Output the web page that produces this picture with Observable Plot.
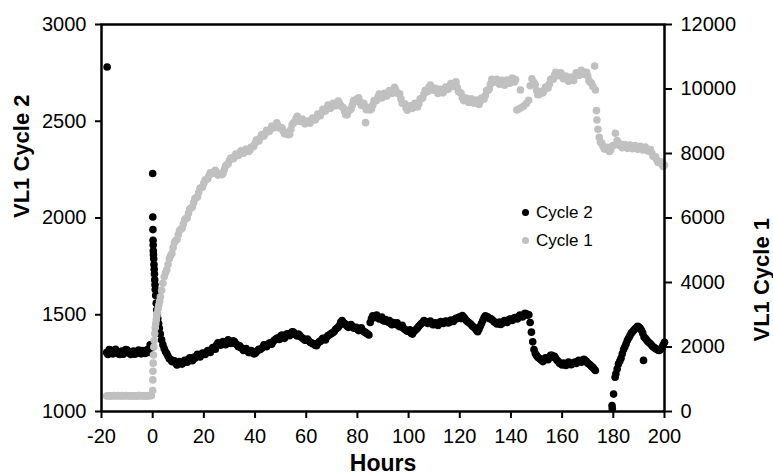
<!DOCTYPE html>
<html><head><meta charset="utf-8">
<script src="https://cdn.jsdelivr.net/npm/d3@7"></script>
<script src="https://cdn.jsdelivr.net/npm/@observablehq/plot@0.6"></script>
<style>
html,body{margin:0;padding:0;background:#fff;}
#wrap{position:relative;width:773px;height:475px;font-family:"Liberation Sans",Arial,sans-serif;}
.ldot{position:absolute;width:7px;height:7px;border-radius:50%;}
.ltxt{position:absolute;font-size:17px;line-height:17px;color:#000;white-space:nowrap;}
</style></head><body><div id="wrap"></div>
<script>
// Cycle 2 (left axis): [hours, VL1]
const cycle2 = [
[-17.8,2780],
[-18,1305],[-17,1320],[-16,1300],[-15,1315],[-14,1310],[-13,1295],[-12,1312],[-11,1305],[-10,1318],[-9,1300],[-8,1308],[-7,1296],[-6,1310],[-5,1304],[-4,1315],[-3,1300],[-2,1320],[-1,1345],[-0.5,1330],
[0,2230],[0.05,2005],[0.1,1940],[0.15,1885],[0.2,1860],[0.25,1830],[0.3,1810],[0.4,1790],[0.5,1760],[0.6,1735],[0.7,1710],[0.8,1680],[0.9,1655],[1,1630],[1.2,1600],[1.4,1560],[1.6,1525],[1.8,1500],[2,1480],[2.3,1455],[2.6,1430],[3,1400],[3.5,1370],[4,1345],
[5,1310],[6,1285],[7,1270],[8,1262],[9,1250],[10,1245],[11,1250],[12,1255],[13,1262],[14,1270],[15,1268],[16,1280],[17,1285],[18,1290],[19,1295],[20,1300],
[21,1305],[22,1310],[23,1320],[24,1330],[25,1345],[26,1350],[27,1355],[28,1350],[29,1360],[30,1362],[31,1358],[32,1360],[33,1345],[34,1340],[35,1325],[36,1320],[37,1315],[38,1305],[39,1310],[40,1300],
[41,1315],[42,1320],[43,1332],[44,1340],[45,1345],[46,1355],[47,1360],[48,1372],[49,1380],[50,1390],[51,1385],[52,1395],[53,1400],[54,1405],[55,1410],[56,1395],[57,1400],[58,1385],[59,1375],[60,1370],
[61,1365],[62,1355],[63,1350],[64,1340],[65,1360],[66,1370],[67,1375],[68,1385],[69,1395],[70,1405],[71,1415],[72,1430],[73,1445],[74,1470],[75,1455],[76,1440],[77,1445],[78,1440],[79,1430],[80,1425],
[81,1428],[82,1420],[83,1410],[84,1400],[85,1460],[86,1495],[87,1490],[88,1487],[89,1480],[90,1470],[91,1475],[92,1462],[93,1455],[94,1460],[95,1450],[96,1445],[97,1440],[98,1430],[99,1420],[100,1415],
[101,1405],[102,1412],[103,1425],[104,1440],[105,1455],[106,1470],[107,1462],[108,1460],[109,1455],[110,1450],[111,1453],[112,1458],[113,1462],[114,1460],[115,1465],[116,1461],[117,1470],[118,1475],[119,1480],[120,1490],
[121,1496],[122,1480],[123,1465],[124,1455],[125,1440],[126,1430],[127,1412],[128,1440],[129,1470],[130,1495],[131,1488],[132,1480],[133,1470],[134,1460],[135,1455],[136,1450],[137,1462],[138,1468],[139,1472],[140,1476],
[141,1479],[142,1485],[143,1490],[144,1495],[145,1500],[146,1505],[147,1500],[147.5,1460],[148,1410],[148.5,1360],[149,1320],[150,1290],[151,1275],[152,1265],[153,1270],[154,1275],[155,1280],[156,1290],[157,1285],[158,1265],
[159,1250],[160,1240],[161,1245],[162,1248],[163,1250],[164,1245],[165,1255],[166,1258],[167,1262],[168,1265],[169,1264],[170,1250],[171,1240],[172,1228],[173,1212],
[179.5,1031],[179.6,1015],[180.1,1090],[180.7,1177],[181,1195],[181.5,1220],[182,1245],[183,1275],[184,1320],[185,1350],[186,1380],[187,1405],[188,1420],[189,1432],[190,1436],[191,1420],[191.8,1264],[192,1385],[193,1370],
[194,1355],[195,1342],[196,1330],[197,1320],[198,1315],[199,1330],[200,1358]
];
// Cycle 2, readings between the hourly ones
const cycle2Half = [
[-17.5,1295],[-16.5,1318],[-15.5,1298],[-14.5,1322],[-13.5,1300],[-12.5,1305],[-11.5,1296],[-10.5,1320],[-9.5,1308],[-8.5,1295],[-7.5,1312],[-6.5,1300],[-5.5,1318],[-4.5,1298],[-3.5,1310],[-2.5,1315],[-1.5,1305],
[4.5,1325],[5.5,1300],[6.5,1272],[7.5,1258],[8.5,1262],[9.5,1240],[10.5,1258],[11.5,1245],[12.5,1265],[13.5,1255],[14.5,1278],[15.5,1262],[16.5,1275],[17.5,1295],[18.5,1282],[19.5,1302],[20.5,1295],
[21.5,1315],[22.5,1305],[23.5,1330],[24.5,1322],[25.5,1355],[26.5,1342],[27.5,1362],[28.5,1345],[29.5,1370],[30.5,1352],[31.5,1365],[32.5,1350],[33.5,1335],[34.5,1330],[35.5,1315],[36.5,1325],[37.5,1305],[38.5,1315],[39.5,1298],[40.5,1308],
[41.5,1322],[42.5,1325],[43.5,1345],[44.5,1335],[45.5,1352],[46.5,1348],[47.5,1368],[48.5,1378],[49.5,1372],[50.5,1395],[51.5,1378],[52.5,1402],[53.5,1392],[54.5,1412],[55.5,1400],[56.5,1390],[57.5,1392],[58.5,1380],[59.5,1368],[60.5,1375],
[61.5,1358],[62.5,1350],[63.5,1342],[64.5,1352],[65.5,1362],[66.5,1378],[67.5,1370],[68.5,1392],[69.5,1400],[70.5,1408],[71.5,1425],[72.5,1435],[73.5,1462],[74.5,1460],[75.5,1448],[76.5,1435],[77.5,1450],[78.5,1432],[79.5,1435],[80.5,1418],
[81.5,1432],[82.5,1412],[83.5,1405],[84.5,1395],[85.5,1480],[86.5,1485],[87.5,1498],[88.5,1478],[89.5,1488],[90.5,1468],[91.5,1465],[92.5,1470],[93.5,1448],[94.5,1452],[95.5,1458],[96.5,1438],[97.5,1445],[98.5,1425],[99.5,1415],[100.5,1422],
[101.5,1400],[102.5,1418],[103.5,1432],[104.5,1448],[105.5,1460],[106.5,1465],[107.5,1455],[108.5,1468],[109.5,1448],[110.5,1458],[111.5,1445],[112.5,1465],[113.5,1455],[114.5,1468],[115.5,1458],[116.5,1472],[117.5,1465],[118.5,1482],[119.5,1485],[120.5,1480],
[121.5,1488],[122.5,1470],[123.5,1460],[124.5,1448],[125.5,1435],[126.5,1420],[127.5,1425],[128.5,1455],[129.5,1485],[130.5,1490],[131.5,1480],[132.5,1475],[133.5,1462],[134.5,1452],[135.5,1462],[136.5,1455],[137.5,1470],[138.5,1460],[139.5,1478],[140.5,1470],
[141.5,1485],[142.5,1478],[143.5,1498],[144.5,1488],[145.5,1508],[146.5,1498],
[149.5,1300],[150.5,1280],[151.5,1270],[152.5,1258],[153.5,1278],[154.5,1268],[155.5,1290],[156.5,1280],[157.5,1275],[158.5,1258],[159.5,1245],[160.5,1250],[161.5,1238],[162.5,1255],[163.5,1242],[164.5,1252],[165.5,1248],[166.5,1265],[167.5,1255],[168.5,1270],
[169.5,1258],[170.5,1245],[171.5,1232],[172.5,1220],
[182.5,1260],[183.5,1298],[184.5,1335],[185.5,1368],[186.5,1392],[187.5,1412],[188.5,1428],[189.5,1440],[190.5,1430],[191.5,1405],[192.5,1378],[193.5,1362],[194.5,1350],[195.5,1335],[196.5,1325],[197.5,1318],[198.5,1322],[199.5,1345]
];
// Cycle 1 (right axis): [hours, VL1]
const cycle1 = [
[-18,480],[-17,490],[-16,485],[-15,495],[-14,480],[-13,488],[-12,492],[-11,482],[-10,490],[-9,486],[-8,478],[-7,490],[-6,484],[-5,492],[-4,486],[-3,480],[-2,490],[-1,488],[-0.5,495],
[0,650],[0.05,980],[0.1,1250],[0.2,1500],[0.3,1750],[0.45,2000],[0.6,2200],[0.8,2420],[1,2600],[1.2,2720],[1.4,2840],[1.6,2950],[1.8,3050],[2.1,3180],[2.4,3300],[2.7,3420],[3,3560],[3.5,3760],[4,3975],[5,4300],[6,4560],[7,4830],[8,5080],[9,5300],[10,5480],
[11,5650],[12,5820],[13,5980],[14,6150],[15,6310],[16,6470],[17,6630],[18,6790],[19,6940],[20,7080],[21,7200],[22,7320],[23,7400],[24,7440],[25,7400],[26,7350],[27,7340],[28,7500],[29,7650],[30,7790],
[31,7850],[32,7900],[33,7950],[34,8000],[35,8040],[36,8070],[37,8090],[38,8110],[39,8200],[40,8320],[41,8420],[42,8480],[43,8560],[44,8620],[45,8700],[46,8750],[47,8820],[48,8880],[49,8860],[50,8800],
[51,8700],[52,8620],[53,8580],[54,8750],[55,8950],[56,9080],[57,9060],[58,9030],[59,8990],[60,8950],[61,8980],[62,9020],[63,9070],[64,9120],[65,9200],[66,9260],[67,9330],[68,9400],[69,9440],[70,9470],
[71,9520],[72,9550],[73,9560],[74,9450],[75,9300],[76,9200],[77,9350],[78,9500],[79,9650],[80,9700],[81,9600],[82,9500],[83,9450],[83.2,8956],[84,9380],[85,9350],[86,9500],[87,9650],[88,9740],[89,9770],[90,9780],
[91,9820],[92,9850],[93,9900],[94,9960],[95,9960],[96,9850],[97,9700],[98,9550],[99,9420],[100,9400],[101,9430],[102,9500],[103,9460],[104,9540],[105,9700],[106,9850],[107,9920],[108,10050],[109,10030],[110,9980],
[111,9930],[112,9920],[113,9930],[114,9960],[115,10020],[116,10080],[117,10120],[118,10170],[119,10050],[120,9900],[121,9730],[122,9660],[123,9640],[124,9650],[125,9620],[126,9600],[127,9570],[128,9620],[129,9700],[130,9800],
[131,9950],[132,10150],[133,10280],[134,10240],[135,10220],[136,10200],[137,10190],[138,10180],[139,10220],[140,10260],[141,10270],[141.8,10290],[142.3,9349],[143,9380],[143.7,9969],[144,9420],[145,9470],[146,9550],[146.9,9650],[147.5,10100],
[148.2,10320],[149,10200],[150,9950],[151,9830],[152,9900],[153,9970],[154,10020],[155,10150],[156,10300],[157,10420],[158,10480],[159,10450],[160,10400],[161,10350],[162,10320],[163,10280],[164,10320],[165,10400],[166,10470],[167,10500],
[168,10530],[169,10500],[170,10400],[171,10200],[172,10080],[172.7,10710],[173,9970],[173.4,9330],[173.6,9040],[174,8750],[174.5,8500],[175,8350],[176,8220],[177,8150],[178,8110],[179,8120],[180,8250],[180.8,8630],[181.5,8400],[182,8260],
[183,8240],[184,8230],[185,8220],[186,8210],[187,8215],[188,8200],[189,8190],[190,8170],[191,8160],[192,8170],[193,8140],[194,8110],[195,8020],[196,7900],[197,7800],[198,7720],[199,7660],[200,7640]
];
// Cycle 1, readings between the hourly ones
const cycle1Half = [
[-17.5,488],[-16.5,478],[-15.5,490],[-14.5,485],[-13.5,495],[-12.5,480],[-11.5,488],[-10.5,494],[-9.5,482],[-8.5,490],[-7.5,486],[-6.5,478],[-5.5,492],[-4.5,485],[-3.5,490],[-2.5,484],[-1.5,492],
[4.5,4180],[5.5,4390],[6.5,4740],[7.5,4900],[8.5,5240],[9.5,5330],[10.5,5610],[11.5,5680],[12.5,5950],[13.5,6010],[14.5,6280],[15.5,6340],[16.5,6600],[17.5,6660],[18.5,6920],[19.5,6960],[20.5,7180],
[21.5,7210],[22.5,7400],[23.5,7380],[24.5,7480],[25.5,7330],[26.5,7380],[27.5,7380],[28.5,7620],[29.5,7680],[30.5,7860],[31.5,7840],[32.5,7980],[33.5,7940],[34.5,8080],[35.5,8010],[36.5,8140],[37.5,8060],[38.5,8200],[39.5,8220],[40.5,8420],
[41.5,8390],[42.5,8580],[43.5,8540],[44.5,8720],[45.5,8680],[46.5,8850],[47.5,8800],[48.5,8950],[49.5,8790],[50.5,8800],[51.5,8610],[52.5,8650],[53.5,8600],[54.5,8900],[55.5,8980],[56.5,9150],[57.5,8990],[58.5,9070],[59.5,8920],[60.5,9010],
[61.5,8940],[62.5,9100],[63.5,9040],[64.5,9220],[65.5,9170],[66.5,9370],[67.5,9320],[68.5,9500],[69.5,9400],[70.5,9560],[71.5,9480],[72.5,9630],[73.5,9480],[74.5,9420],[75.5,9200],[76.5,9320],[77.5,9380],[78.5,9640],[79.5,9620],[80.5,9730],
[81.5,9500],[82.5,9560],[83.5,9360],[84.5,9420],[85.5,9380],[86.5,9640],[87.5,9640],[88.5,9840],[89.5,9720],[90.5,9870],[91.5,9780],[92.5,9950],[93.5,9860],[94.5,10050],[95.5,9880],[96.5,9850],[97.5,9560],[98.5,9540],[99.5,9340],[100.5,9480],
[101.5,9400],[102.5,9560],[103.5,9440],[104.5,9700],[105.5,9720],[106.5,9960],[107.5,9920],[108.5,10120],[109.5,9960],[110.5,10020],[111.5,9860],[112.5,9990],[113.5,9880],[114.5,10060],[115.5,9990],[116.5,10170],[117.5,10080],[118.5,10220],[119.5,9920],[120.5,9870],
[121.5,9640],[122.5,9720],[123.5,9580],[124.5,9700],[125.5,9560],[126.5,9660],[127.5,9520],[128.5,9720],[129.5,9690],[130.5,9950],[131.5,10000],[132.5,10300],[133.5,10210],[134.5,10300],[135.5,10150],[136.5,10270],[137.5,10120],[138.5,10280],[139.5,10180],[140.5,10340],
[141.3,10220],
[149.5,10140],[150.5,9820],[151.5,9920],[152.5,9880],[153.5,10060],[154.5,10030],[155.5,10300],[156.5,10300],[157.5,10520],[158.5,10410],[159.5,10500],[160.5,10320],[161.5,10400],[162.5,10240],[163.5,10360],[164.5,10260],[165.5,10500],[166.5,10420],[167.5,10580],[168.5,10460],
[169.5,10520],[170.5,10260],[171.5,10180],
[175.5,8320],[176.5,8140],[177.5,8190],[178.5,8060],[179.5,8220],[182.5,8300],[183.5,8180],[184.5,8280],[185.5,8160],[186.5,8260],[187.5,8150],[188.5,8250],[189.5,8130],[190.5,8220],[191.5,8110],[192.5,8200],[193.5,8080],[194.5,8120],[195.5,7920],[196.5,7900],
[197.5,7720],[198.5,7740],[199.5,7600]
];
const xTicks = [-20,0,20,40,60,80,100,120,140,160,180,200];
const leftTicks = [1000,1500,2000,2500,3000];
const rightTicks = [0,2000,4000,6000,8000,10000,12000];
const seriesNames = ["Cycle 2","Cycle 1"];
const seriesColors = ["#000000","#c0c0c0"];
const titles = {x:"Hours", left:"VL1 Cycle 2", right:"VL1 Cycle 1"};

// right axis values mapped onto left scale: 0..12000 -> 1000..3000
const toLeft = v => 1000 + v / 6;
const FONT = "'Liberation Sans', Arial, sans-serif";
const c2All = cycle2.concat(cycle2Half);
const c1All = cycle1.concat(cycle1Half);

const chart = Plot.plot({
  width: 773, height: 475,
  marginLeft: 101, marginRight: 109, marginTop: 24, marginBottom: 64,
  style: {fontFamily: FONT, background: "#fff", color: "#000", overflow: "visible"},
  x: {domain: [-20, 200]},
  y: {domain: [1000, 3000]},
  marks: [
    Plot.dot(c2All, {x: d => d[0], y: d => d[1], r: 3.8, fill: seriesColors[0], stroke: "none"}),
    Plot.dot(c1All, {x: d => d[0], y: d => toLeft(d[1]), r: 3.8, fill: seriesColors[1], stroke: "none"}),
    Plot.frame({stroke: "#000", strokeWidth: 2.5}),
    Plot.axisX(xTicks, {tickSize: 7, tickPadding: 10, strokeWidth: 2, fontSize: 20, label: null, tickFormat: d => String(d)}),
    Plot.axisY(leftTicks, {anchor: "left", tickSize: 6, tickPadding: 9, strokeWidth: 2, fontSize: 20, label: null, tickFormat: d => String(d)}),
    Plot.axisY(rightTicks.map(toLeft), {anchor: "right", tickSize: 7, tickPadding: 9, strokeWidth: 2, fontSize: 20, label: null,
      tickFormat: (d, i) => String(rightTicks[i])}),
    Plot.text([titles.x], {frameAnchor: "bottom", dy: 52, fontSize: 23, fontWeight: "bold", lineAnchor: "middle"}),
    Plot.text([titles.left], {frameAnchor: "left", dx: -79.5, rotate: -90, fontSize: 22, fontWeight: "bold", lineAnchor: "middle"}),
    Plot.text([titles.right], {frameAnchor: "right", dx: 97, rotate: -90, fontSize: 22, fontWeight: "bold", lineAnchor: "middle"})
  ]
});
const wrap = document.getElementById("wrap");
wrap.appendChild(chart);
const legY = [212, 240.7];
seriesNames.forEach((name, i) => {
  const dot = document.createElement("div");
  dot.className = "ldot";
  dot.style.background = seriesColors[i];
  dot.style.left = "521.5px";
  dot.style.top = (legY[i] - 3.5) + "px";
  wrap.appendChild(dot);
  const t = document.createElement("div");
  t.className = "ltxt";
  t.textContent = name;
  t.style.left = "536px";
  t.style.top = (legY[i] - 8.3) + "px";
  wrap.appendChild(t);
});
</script></body></html>
